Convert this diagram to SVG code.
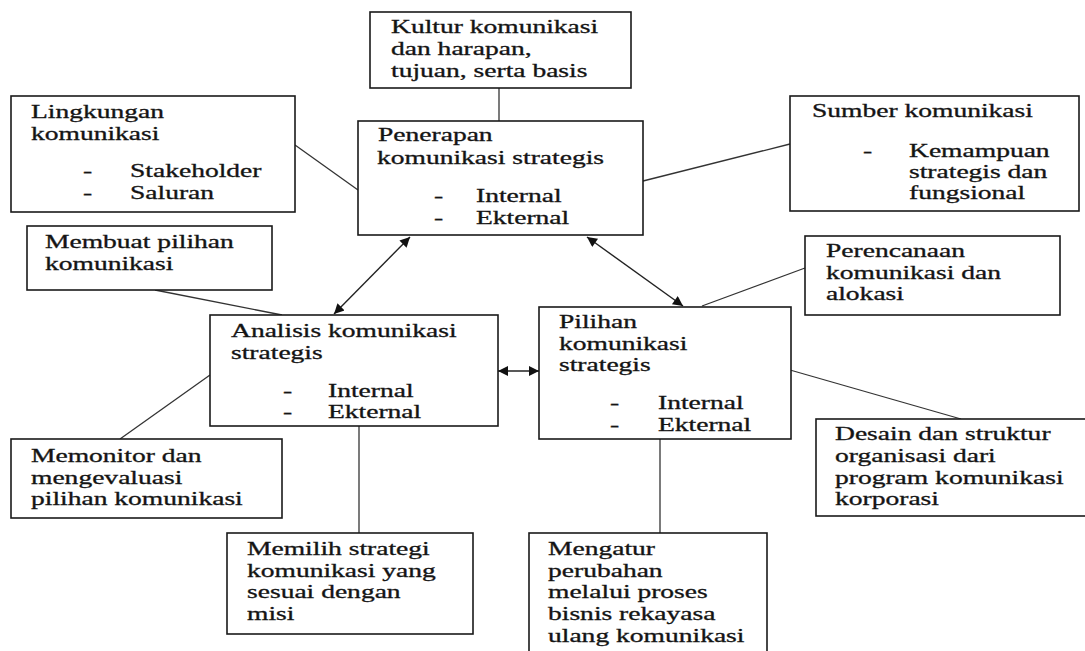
<svg xmlns="http://www.w3.org/2000/svg" width="1085" height="651" viewBox="0 0 1085 651">
<style>
.box{fill:#fff;stroke:#1a1a1a;stroke-width:1.6}
.ln{stroke:#333;stroke-width:1.3;fill:none}
.ar{stroke:#222;stroke-width:1.4;fill:none;marker-start:url(#ah);marker-end:url(#ah)}
text{font-family:"Liberation Serif","Times New Roman",serif;font-size:18px;fill:#141414;stroke:#141414;stroke-width:0.3}
</style>
<defs>
<marker id="ah" viewBox="0 0 10 10" refX="10" refY="5" markerWidth="12" markerHeight="10" markerUnits="userSpaceOnUse" orient="auto-start-reverse">
<path d="M0,0 L10,5 L0,10 z" fill="#111"/>
</marker>
</defs>
<rect width="1085" height="651" fill="#fff"/>
<g id="connectors">
<line class="ln" x1="499" y1="88" x2="499" y2="121"/>
<line class="ln" x1="295" y1="145" x2="358" y2="190"/>
<line class="ln" x1="643" y1="181" x2="790" y2="144"/>
<line class="ln" x1="155" y1="290" x2="282" y2="315"/>
<line class="ar" x1="410" y1="237" x2="334" y2="314"/>
<line class="ar" x1="587" y1="237" x2="683" y2="306"/>
<line class="ar" x1="498" y1="371" x2="539" y2="371"/>
<line class="ln" x1="702" y1="306" x2="805" y2="268"/>
<line class="ln" x1="790" y1="370" x2="961" y2="419"/>
<line class="ln" x1="210" y1="375" x2="120" y2="439"/>
<line class="ln" x1="359" y1="426" x2="359" y2="533"/>
<line class="ln" x1="660" y1="439" x2="660" y2="533"/>
</g>
<g id="kultur">
<rect class="box" x="370" y="12" width="261" height="76"/>
<text transform="translate(391 33) scale(1.53 1)">Kultur komunikasi</text>
<text transform="translate(391 55) scale(1.53 1)">dan harapan,</text>
<text transform="translate(391 77) scale(1.53 1)">tujuan, serta basis</text>
</g>
<g id="lingkungan">
<rect class="box" x="11" y="96" width="284" height="116"/>
<text transform="translate(31 118) scale(1.53 1)">Lingkungan</text>
<text transform="translate(31 140) scale(1.53 1)">komunikasi</text>
<text transform="translate(83 177) scale(1.53 1)">-</text>
<text transform="translate(130 177) scale(1.53 1)">Stakeholder</text>
<text transform="translate(83 199) scale(1.53 1)">-</text>
<text transform="translate(130 199) scale(1.53 1)">Saluran</text>
</g>
<g id="penerapan">
<rect class="box" x="358" y="121" width="285" height="114"/>
<text transform="translate(378 141) scale(1.53 1)">Penerapan</text>
<text transform="translate(377 164) scale(1.53 1)">komunikasi strategis</text>
<text transform="translate(434 202) scale(1.53 1)">-</text>
<text transform="translate(476 202) scale(1.53 1)">Internal</text>
<text transform="translate(434 224) scale(1.53 1)">-</text>
<text transform="translate(476 224) scale(1.53 1)">Ekternal</text>
</g>
<g id="sumber">
<rect class="box" x="790" y="96" width="289" height="115"/>
<text transform="translate(812 117) scale(1.53 1)">Sumber komunikasi</text>
<text transform="translate(863 157) scale(1.53 1)">-</text>
<text transform="translate(909 157) scale(1.53 1)">Kemampuan</text>
<text transform="translate(909 178) scale(1.53 1)">strategis dan</text>
<text transform="translate(909 199) scale(1.53 1)">fungsional</text>
</g>
<g id="membuat">
<rect class="box" x="27" y="226" width="245" height="64"/>
<text transform="translate(45 248) scale(1.53 1)">Membuat pilihan</text>
<text transform="translate(45 270) scale(1.53 1)">komunikasi</text>
</g>
<g id="analisis">
<rect class="box" x="210" y="315" width="288" height="111"/>
<text transform="translate(231 337) scale(1.53 1)">Analisis komunikasi</text>
<text transform="translate(231 359) scale(1.53 1)">strategis</text>
<text transform="translate(283 397) scale(1.53 1)">-</text>
<text transform="translate(328 397) scale(1.53 1)">Internal</text>
<text transform="translate(283 418) scale(1.53 1)">-</text>
<text transform="translate(328 418) scale(1.53 1)">Ekternal</text>
</g>
<g id="pilihan">
<rect class="box" x="539" y="307" width="252" height="132"/>
<text transform="translate(559 328) scale(1.53 1)">Pilihan</text>
<text transform="translate(559 350) scale(1.53 1)">komunikasi</text>
<text transform="translate(559 371) scale(1.53 1)">strategis</text>
<text transform="translate(610 409) scale(1.53 1)">-</text>
<text transform="translate(658 409) scale(1.53 1)">Internal</text>
<text transform="translate(610 431) scale(1.53 1)">-</text>
<text transform="translate(658 431) scale(1.53 1)">Ekternal</text>
</g>
<g id="perencanaan">
<rect class="box" x="805" y="236" width="255" height="79"/>
<text transform="translate(826 257) scale(1.53 1)">Perencanaan</text>
<text transform="translate(826 279) scale(1.53 1)">komunikasi dan</text>
<text transform="translate(826 300) scale(1.53 1)">alokasi</text>
</g>
<g id="desain">
<rect class="box" x="816" y="419" width="275" height="97"/>
<text transform="translate(835 440) scale(1.53 1)">Desain dan struktur</text>
<text transform="translate(835 462) scale(1.53 1)">organisasi dari</text>
<text transform="translate(835 484) scale(1.53 1)">program komunikasi</text>
<text transform="translate(835 505) scale(1.53 1)">korporasi</text>
</g>
<g id="memonitor">
<rect class="box" x="11" y="439" width="271" height="79"/>
<text transform="translate(31 462) scale(1.53 1)">Memonitor dan</text>
<text transform="translate(31 484) scale(1.53 1)">mengevaluasi</text>
<text transform="translate(31 505) scale(1.53 1)">pilihan komunikasi</text>
</g>
<g id="memilih">
<rect class="box" x="227" y="533" width="246" height="101"/>
<text transform="translate(247 555) scale(1.53 1)">Memilih strategi</text>
<text transform="translate(247 577) scale(1.53 1)">komunikasi yang</text>
<text transform="translate(247 598) scale(1.53 1)">sesuai dengan</text>
<text transform="translate(247 620) scale(1.53 1)">misi</text>
</g>
<g id="mengatur">
<rect class="box" x="529" y="533" width="238" height="130"/>
<text transform="translate(548 555) scale(1.53 1)">Mengatur</text>
<text transform="translate(548 577) scale(1.53 1)">perubahan</text>
<text transform="translate(548 598) scale(1.53 1)">melalui proses</text>
<text transform="translate(548 620) scale(1.53 1)">bisnis rekayasa</text>
<text transform="translate(548 642) scale(1.53 1)">ulang komunikasi</text>
</g>
</svg>
